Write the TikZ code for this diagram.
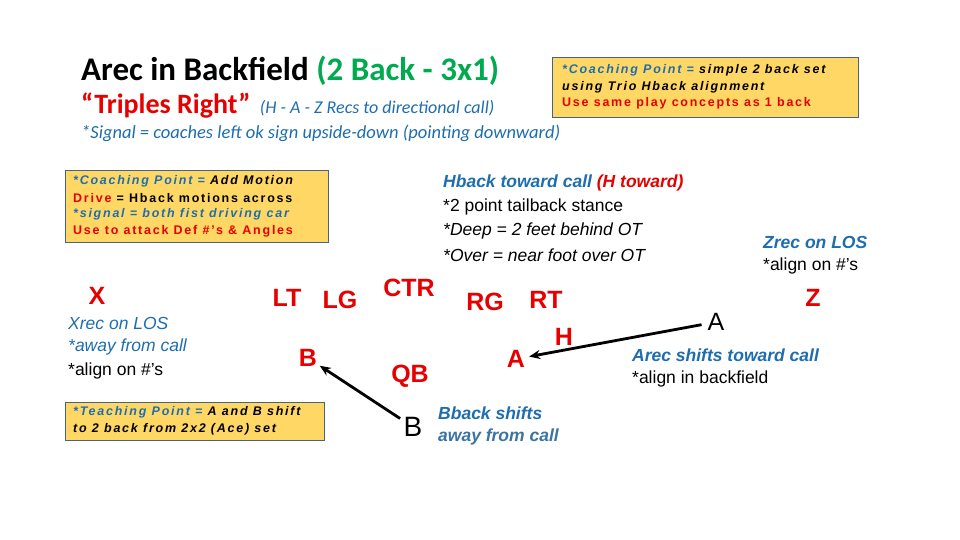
\documentclass[tikz,border=0pt]{standalone}
\usepackage{fontspec}
\setmainfont{Liberation Sans}
\newfontfamily\calfont{Carlito}
\newfontfamily\boxfont[LetterSpace=14]{Liberation Sans}
\usetikzlibrary{arrows.meta}
\definecolor{tgreen}{RGB}{0,170,80}
\definecolor{tred}{RGB}{230,0,0}
\definecolor{tblue}{RGB}{30,110,175}
\definecolor{boxfill}{RGB}{255,215,100}
\definecolor{boxline}{RGB}{70,100,130}
\tikzset{
 pl/.style={font=\bfseries\fontsize{25}{27}\selectfont,text=tred,inner sep=0pt},
 lbl/.style={anchor=west,inner sep=0pt,font=\fontsize{17.5}{19}\selectfont},
 bx/.style={draw=boxline,fill=boxfill,line width=0.8pt},
 bt/.style={anchor=west,inner sep=0pt,font=\boxfont\bfseries\itshape\fontsize{12.5}{14}\selectfont},
 btu/.style={anchor=west,inner sep=0pt,font=\boxfont\bfseries\fontsize{12.5}{14}\selectfont},
 arr/.style={-{Stealth[length=11pt,width=9pt]},line width=2.8pt},
}
\begin{document}
\begin{tikzpicture}[x=1pt,y=-1pt]
\useasboundingbox (0,0) rectangle (960,540);
\fill[white] (0,0) rectangle (960,540);
\node[anchor=west,inner sep=0pt,font=\calfont\bfseries\fontsize{33}{36}\selectfont] (t1) at (81,71) {Arec in Backfield \textcolor{tgreen}{(2 Back - 3x1)}};
\node[anchor=west,inner sep=0pt,font=\calfont\bfseries\fontsize{28}{31}\selectfont,text=tred] (t2) at (81,106) {“Triples Right”\,\,\textcolor{tblue}{\mdseries\itshape\fontsize{18}{20}\selectfont (H - A - Z Recs to directional call)}};
\node[anchor=west,inner sep=0pt,font=\calfont\itshape\fontsize{18.5}{20}\selectfont,text=tblue] (t3) at (81,133) {*Signal = coaches left ok sign upside-down (pointing downward)};
% top right box
\draw[bx] (552,57) rectangle (858,117);
\node[bt] (b1) at (562,70) {\textcolor{tblue}{*Coaching Point =} simple 2 back set};
\node[bt] (b2) at (562,87) {using Trio Hback alignment};
\node[btu,text=tred] (b3) at (562,103) {Use same play concepts as 1 back};
% left box
\draw[bx] (65,170) rectangle (328,242);
\node[bt] (c1) at (73,181) {\textcolor{tblue}{*Coaching Point =} Add Motion};
\node[btu] (c2) at (73,198) {\textcolor{tred}{Drive} = Hback motions across};
\node[bt,text=tblue] (c3) at (73,214) {*signal = both fist driving car};
\node[btu,text=tred] (c4) at (73,231) {Use to attack Def \#’s \& Angles};
% teaching box
\draw[bx] (65,402) rectangle (324,440);
\node[bt] (d1) at (73,412) {\textcolor{tblue}{*Teaching Point =} A and B shift};
\node[bt] (d2) at (73,429) {to 2 back from 2x2 (Ace) set};
% Hback text
\node[lbl,font=\bfseries\itshape\fontsize{17.5}{19}\selectfont,text=tblue] (h1) at (443,183) {Hback toward call \textcolor{tred}{(H toward)}};
\node[lbl] (h2) at (443,207) {*2 point tailback stance};
\node[lbl,font=\itshape\fontsize{17.5}{19}\selectfont] (h3) at (443,231) {*Deep = 2 feet behind OT};
\node[lbl,font=\itshape\fontsize{17.5}{19}\selectfont] (h4) at (443,255) {*Over = near foot over OT};
% Zrec
\node[lbl,font=\bfseries\itshape\fontsize{17.5}{19}\selectfont,text=tblue] (z1) at (763,242) {Zrec on LOS};
\node[lbl] (z2) at (763,266) {*align on \#’s};
% Xrec
\node[lbl,font=\itshape\fontsize{17.5}{19}\selectfont,text=tblue] (x1) at (68,323) {Xrec on LOS};
\node[lbl,font=\itshape\fontsize{17.5}{19}\selectfont,text=tblue] (x2) at (68,347) {*away from call};
\node[lbl] (x3) at (68,371) {*align on \#’s};
% Arec
\node[lbl,font=\bfseries\itshape\fontsize{17.5}{19}\selectfont,text=tblue] (a1) at (632,355) {Arec shifts toward call};
\node[lbl] (a2) at (632,379) {*align in backfield};
% Bback
\node[lbl,font=\bfseries\itshape\fontsize{17.5}{19}\selectfont,text=tblue] (bb1) at (438,413) {Bback shifts};
\node[lbl,font=\bfseries\itshape\fontsize{17.5}{19}\selectfont,text=tblue!70!gray] (bb2) at (438,437) {away from call};
% players
\node[pl] (X) at (97,296) {X};
\node[pl] (LT) at (287,298) {LT};
\node[pl] (LG) at (340,300) {LG};
\node[pl] (CTR) at (409,288) {CTR};
\node[pl] (RG) at (485,302) {RG};
\node[pl] (RT) at (546,300) {RT};
\node[pl] (H) at (564,337) {H};
\node[pl] (Ar) at (516,359) {A};
\node[pl] (Br) at (308,358) {B};
\node[pl] (QB) at (410,376) {QB};
\node[pl] (Z) at (813,298) {Z};
\node[inner sep=0pt,font=\fontsize{25}{27}\selectfont] (Ab) at (716,322) {A};
\node[inner sep=0pt,font=\fontsize{28}{30}\selectfont] (Bb) at (413,427) {B};
\draw[arr,shorten <=6pt,shorten >=4pt] (Ab) -- (Ar);
\draw[arr,shorten <=4pt,shorten >=3pt] (Bb) -- (Br);
\end{tikzpicture}
\end{document}
